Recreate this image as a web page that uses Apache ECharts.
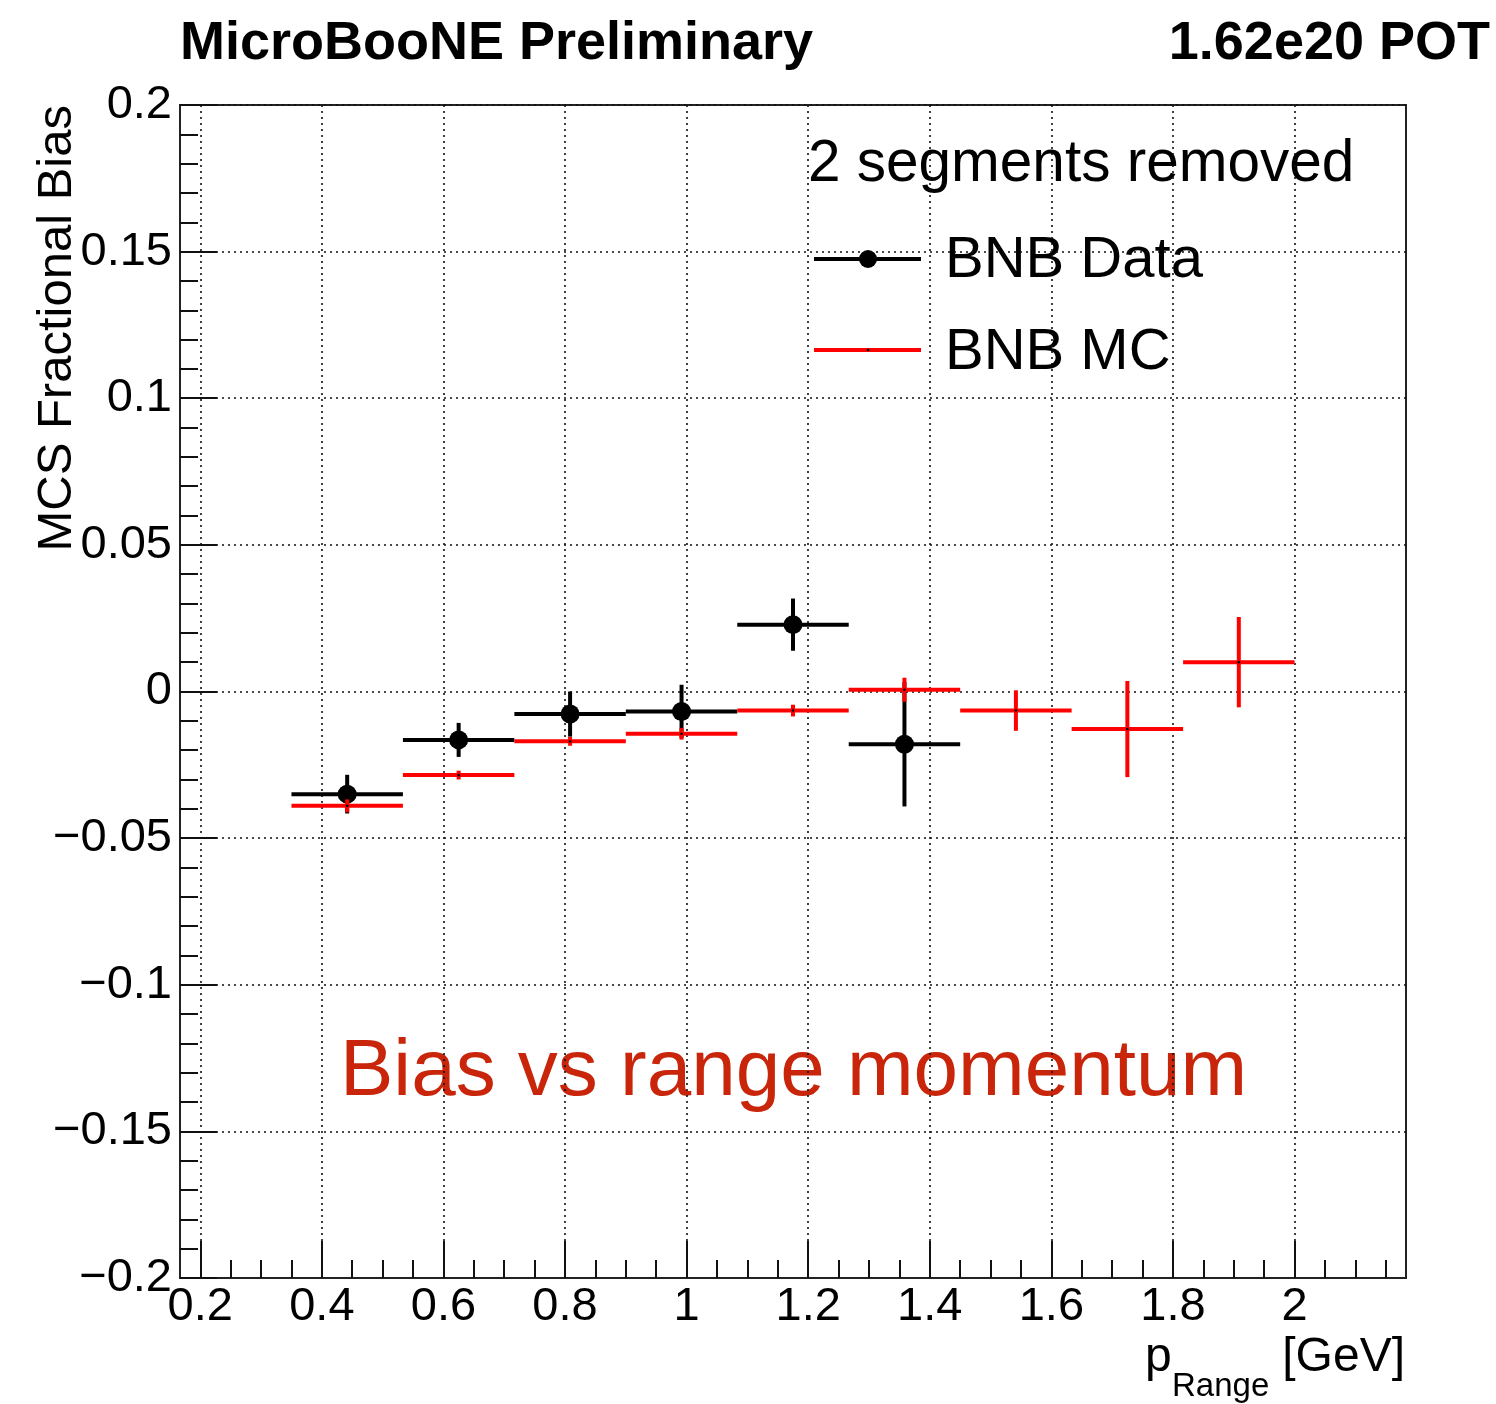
<!DOCTYPE html>
<html>
<head>
<meta charset="utf-8">
<script src="https://cdn.jsdelivr.net/npm/echarts@6/dist/echarts.min.js"></script>
<style>
  html, body { margin: 0; padding: 0; background: #fff; }
  #chart { width: 1496px; height: 1404px; }
</style>
</head>
<body>
<div id="chart"></div>
<script>
// Momentum bins (GeV): 9 bins from 0.35 to 2.0
const binEdges = [0.35, 0.53333, 0.71667, 0.9, 1.08333, 1.26667, 1.45, 1.63333, 1.81667, 2.0];

// BNB data: fractional bias and its uncertainty (first six bins only)
const dataBias = [-0.0350, -0.0165, -0.0077, -0.0068, 0.0228, -0.0180];
const dataErr  = [0.0066, 0.0058, 0.0077, 0.0091, 0.0089, 0.0212];

// BNB MC: fractional bias and its uncertainty
const mcBias = [-0.0390, -0.0285, -0.0170, -0.0144, -0.0065, 0.0006, -0.0065, -0.0128, 0.0100];
const mcErr  = [0.0022, 0.0015, 0.0015, 0.0020, 0.0020, 0.0041, 0.0069, 0.0164, 0.0154];

// Axis tick values
const xMajorTicks = [0.2, 0.4, 0.6, 0.8, 1.0, 1.2, 1.4, 1.6, 1.8, 2.0];
const xMinorTicks = [0.25, 0.3, 0.35, 0.45, 0.5, 0.55, 0.65, 0.7, 0.75, 0.85, 0.9, 0.95,
                     1.05, 1.1, 1.15, 1.25, 1.3, 1.35, 1.45, 1.5, 1.55, 1.65, 1.7, 1.75,
                     1.85, 1.9, 1.95, 2.05, 2.1, 2.15];
const xRange = [0.166667, 2.183333];
const yRange = [-0.2, 0.2];

const FONT = '"Liberation Sans", Arial, Helvetica, sans-serif';

function binItems(values, errors) {
  return values.map((v, i) => [binEdges[i], binEdges[i + 1], v, errors[i]]);
}

function errorBarRenderer(color, centerDot) {
  return function (params, api) {
    const lo = api.value(0), hi = api.value(1), y = api.value(2), e = api.value(3);
    const mid = (lo + hi) / 2;
    const pL = api.coord([lo, y]);
    const pR = api.coord([hi, y]);
    const pT = api.coord([mid, y + e]);
    const pB = api.coord([mid, y - e]);
    const style = { stroke: color, lineWidth: 4, lineCap: 'butt' };
    const children = [
      { type: 'line', shape: { x1: pL[0], y1: pL[1], x2: pR[0], y2: pR[1] }, style },
      { type: 'line', shape: { x1: pT[0], y1: pT[1], x2: pB[0], y2: pB[1] }, style }
    ];
    if (centerDot) {
      const c = api.coord([mid, y]);
      children.push({ type: 'circle', shape: { cx: c[0], cy: c[1], r: 1.3 }, style: { fill: '#000' } });
    }
    return { type: 'group', children };
  };
}

const gridDash = { color: '#111', width: 1.6, type: [2, 4] };

const chart = echarts.init(document.getElementById('chart'), null, { renderer: 'canvas' });

chart.setOption({
  backgroundColor: '#fff',
  animation: false,
  grid: {
    left: 180, right: 90, top: 105, bottom: 126,
    show: true, borderColor: '#222', borderWidth: 2, backgroundColor: 'transparent'
  },
  xAxis: [
    {
      type: 'value', min: xRange[0], max: xRange[1], position: 'bottom',
      axisLine: { show: true, onZero: false, lineStyle: { color: '#222', width: 2 } },
      axisTick: { show: true, inside: true, length: 37, customValues: xMajorTicks,
                  lineStyle: { color: '#111', width: 2 } },
      axisLabel: { show: true, customValues: xMajorTicks, margin: 6, fontSize: 47,
                   color: '#000', fontFamily: FONT },
      splitLine: { show: true, lineStyle: gridDash },
      minorTick: { show: false }
    },
    {
      type: 'value', min: xRange[0], max: xRange[1], position: 'bottom',
      axisLine: { show: false, onZero: false },
      axisTick: { show: true, inside: true, length: 18, customValues: xMinorTicks,
                  lineStyle: { color: '#111', width: 2 } },
      axisLabel: { show: false },
      splitLine: { show: false }
    }
  ],
  yAxis: {
    type: 'value', min: yRange[0], max: yRange[1], interval: 0.05,
    axisLine: { show: true, onZero: false, lineStyle: { color: '#222', width: 2 } },
    axisTick: { show: true, inside: true, length: 37, lineStyle: { color: '#111', width: 2 } },
    minorTick: { show: true, splitNumber: 5, length: 18, lineStyle: { color: '#111', width: 2 } },
    axisLabel: {
      show: true, margin: 8, fontSize: 47, color: '#000', fontFamily: FONT,
      formatter: v => {
        const r = Math.round(v * 100) / 100;
        return r < 0 ? '\u2212' + String(-r) : String(r);
      }
    },
    splitLine: { show: true, lineStyle: gridDash }
  },
  series: [
    {
      name: 'BNB Data', type: 'custom', xAxisIndex: 0,
      renderItem: errorBarRenderer('#000', false),
      data: binItems(dataBias, dataErr), z: 3
    },
    {
      name: 'BNB Data', type: 'scatter', xAxisIndex: 0,
      symbol: 'circle', symbolSize: 19, itemStyle: { color: '#000', opacity: 1 },
      data: dataBias.map((v, i) => [(binEdges[i] + binEdges[i + 1]) / 2, v]), z: 4
    },
    {
      name: 'BNB MC', type: 'custom', xAxisIndex: 0,
      renderItem: errorBarRenderer('#ff0000', true),
      data: binItems(mcBias, mcErr), z: 5
    }
  ],
  graphic: [
    { type: 'text', left: 180, top: 17,
      style: { text: 'MicroBooNE Preliminary', font: 'bold 54px ' + FONT, fill: '#000' } },
    { type: 'text', right: 6, top: 17,
      style: { text: '1.62e20 POT', font: 'bold 54px ' + FONT, fill: '#000' } },
    // legend
    { type: 'text', x: 808, y: 165,
      style: { text: '2 segments removed', font: '58.5px ' + FONT, fill: '#000', verticalAlign: 'middle' } },
    { type: 'line', shape: { x1: 814, y1: 259, x2: 921, y2: 259 },
      style: { stroke: '#000', lineWidth: 4 } },
    { type: 'circle', shape: { cx: 868, cy: 259, r: 9 }, style: { fill: '#000' } },
    { type: 'text', x: 945, y: 261,
      style: { text: 'BNB Data', font: '58px ' + FONT, fill: '#000', verticalAlign: 'middle' } },
    { type: 'line', shape: { x1: 814, y1: 350, x2: 921, y2: 350 },
      style: { stroke: '#ff0000', lineWidth: 4 } },
    { type: 'circle', shape: { cx: 868, cy: 350, r: 1.3 }, style: { fill: '#000' } },
    { type: 'text', x: 945, y: 353,
      style: { text: 'BNB MC', font: '58px ' + FONT, fill: '#000', verticalAlign: 'middle' } },
    // axis titles
    { type: 'text', x: 57, y: 105, rotation: Math.PI / 2,
      style: { text: 'MCS Fractional Bias', font: '49px ' + FONT, fill: '#000',
               align: 'right', verticalAlign: 'middle' } },
    { type: 'text', x: 1405, y: 1358,
      style: { text: '[GeV]', font: '48px ' + FONT, fill: '#000', align: 'right', verticalAlign: 'middle' } },
    { type: 'text', x: 1145, y: 1358,
      style: { text: 'p', font: '48px ' + FONT, fill: '#000', verticalAlign: 'middle' } },
    { type: 'text', x: 1172, y: 1387,
      style: { text: 'Range', font: '33px ' + FONT, fill: '#000', verticalAlign: 'middle' } },
    // annotation
    { type: 'text', x: 340, y: 1073,
      style: { text: 'Bias vs range momentum', font: '80px ' + FONT, fill: '#c8250a', verticalAlign: 'middle' } }
  ]
});
</script>
</body>
</html>
